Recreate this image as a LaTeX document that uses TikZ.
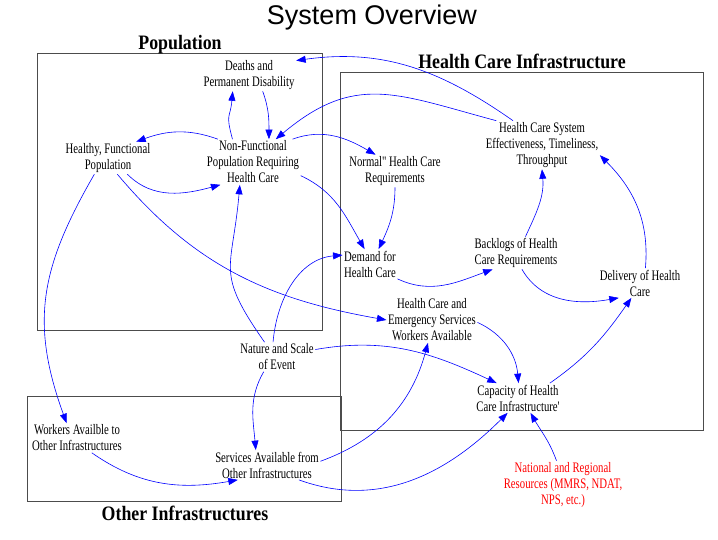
\documentclass[tikz,border=0pt]{standalone}
\usepackage{fontspec}
\setmainfont{Liberation Serif}
\newfontfamily\headfont{Liberation Sans}
\newfontfamily\varfont{Liberation Serif}[FakeStretch=0.74]
\newfontfamily\boxfont{Liberation Serif}[FakeStretch=0.87]
\usetikzlibrary{arrows.meta}

\begin{document}
\begin{tikzpicture}[x=1pt,y=1pt,
  var/.style={align=center,inner sep=1.5pt,font=\varfont\fontsize{14.5}{16}\selectfont},
  link/.style={draw=blue,line width=0.6pt,-{Triangle[length=9.5pt,width=7pt]}},
  frame/.style={draw=black!70,line width=1pt},
  heading/.style={anchor=base,font=\boxfont\bfseries\fontsize{20.5}{22}\selectfont}]

\useasboundingbox (0,0) rectangle (718,540);


\draw[frame] ( 37,209) rectangle (322,486);
\draw[frame] (340,109) rectangle (703,467);
\draw[frame] ( 27, 38) rectangle (341,143);

\node[anchor=base,font=\headfont\fontsize{27}{30}\selectfont] (title) at (372,515) {System Overview};
\node[heading] (tpop) at (180,490) {Population};
\node[heading] (thci) at (522,471) {Health Care Infrastructure};
\node[heading] (toth) at (185, 19) {Other Infrastructures};


\node[var] (dpd) at (249,465) {Deaths and\\Permanent Disability};
\node[var] (hfp) at (108,382) {Healthy, Functional\\Population};
\node[var] (nfp) at (253,378) {Non-Functional\\Population Requiring\\Health Care};
\node[var] (nhr) at (395,369) {Normal" Health Care\\Requirements};
\node[var] (hcs) at (542,395) {Health Care System\\Effectiveness, Timeliness,\\Throughput};
\node[var] (dhc) at (370,276) {Demand for\\Health Care};
\node[var] (bhr) at (516,287) {Backlogs of Health\\Care Requirements};
\node[var] (del) at (640,257) {Delivery of Health\\Care};
\node[var] (hcw) at (432,220) {Health Care and\\Emergency Services\\Workers Available};
\node[var] (cap) at (518,142) {Capacity of Health\\Care Infrastructure'};
\node[var,text=red] (nrr) at (563, 55) {National and Regional\\Resources (MMRS, NDAT,\\NPS, etc.)};
\node[var] (nse) at (277,183) {Nature and Scale\\of Event};
\node[var] (wao) at ( 77,102) {Workers Availble to\\Other Infrastructures};
\node[var] (sao) at (267, 75) {Services Available from\\Other Infrastructures};


\draw[link] (hcs.140) to[out=145,in=8] (dpd.17);
\draw[link] (hcs.152) to[out=165,in=40,looseness=1.2] (nfp.45);
\draw[link] (nfp.132) to[out=105,in=265,looseness=1.5] (dpd.225);
\draw[link] (dpd.310) to[out=290,in=90] (nfp.55);
\draw[link] (nfp.147) to[out=160,in=20] (hfp.30);
\draw[link] (hfp.320) to[out=315,in=195] (nfp.215);
\draw[link] (hfp.300) to[out=310,in=170] (hcw.west);
\draw[link] (hfp.230) to[out=240,in=110,looseness=1.1] (wao.125);
\draw[link] (nfp.30) to[out=20,in=150] (nhr.140);
\draw[link] (nfp.344) to[out=-25,in=120] (dhc.110);
\draw[link] (nhr.south) to[out=-90,in=65] (dhc.60);
\draw[link] (dhc.south east) to[out=-25,in=200] (bhr.215);
\draw[link] (bhr.60) to[out=65,in=275] (hcs.south);
\draw[link] (bhr.290) to[out=-60,in=190] (del.215);
\draw[link] (del.70) to[out=85,in=-45] (hcs.350);
\draw[link] (cap.25) to[out=35,in=235] (del.240);
\draw[link] (hcw.-3) to[out=-25,in=95] (cap.88);
\draw[link] (nse.11) to[out=10,in=155] (cap.145);
\draw[link] (nse.130) to[out=125,in=265,looseness=1.4] (nfp.240);
\draw[link] (nse.105) to[out=85,in=185] (dhc.162);
\draw[link] (nse.228) to[out=240,in=95] (sao.127);
\draw[link] (sao.4) to[out=20,in=255] (hcw.260);
\draw[link] (wao.315) to[out=-35,in=190] (sao.207);
\draw[link] (sao.335) to[out=-20,in=225] (cap.235);
\draw[link] (nrr.105) to[out=110,in=300] (cap.310);


\end{tikzpicture}
\end{document}
